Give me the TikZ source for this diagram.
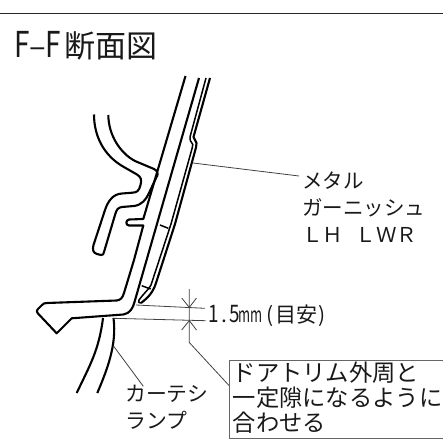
\documentclass[tikz,border=0pt]{standalone}
\usepackage{fontspec}
\setmainfont{Noto Sans CJK JP}
\newcommand{\hw}[1]{\makebox[.5em][c]{#1}}
\newcommand{\tallch}[1]{\scalebox{.9}[1.15]{#1}}
\tikzset{
  part/.style={line width=2.1pt,black,line join=round,line cap=butt},
  mid/.style={line width=1.5pt,black,line join=round},
  thin/.style={line width=.8pt,black!75},
  lab/.style={inner sep=0pt,anchor=base west,align=left,text=black!90},
}
\begin{document}
\begin{tikzpicture}[x=1pt,y=-1pt]
\useasboundingbox (0,0) rectangle (443,448);
\draw[line width=1pt,black!85] (0,13.5) -- (443,13.5);
\node[lab,font=\fontsize{31}{31}\selectfont] (title) at (14.5,57) {\hw{\tallch{F}}\hw{–}\hw{\tallch{F}}\hspace{3pt}断面図};
% door trim upper line with notch, running on to the left tip
\draw[part] (185.5,76) -- (143.3,219) -- (129,219.5) .. controls (125.5,220) and (125.5,225.5) .. (129,225.5) -- (143.3,225.5) -- (134,260)
  -- (124,293) .. controls (122.5,298) and (120.5,300) .. (116.7,300.5) -- (47,303) .. controls (44.5,303) and (43.5,303.5) .. (42,305) -- (37.5,309.5) .. controls (36.5,311) and (36.5,312) .. (38,313.5) -- (56.7,333.3) -- (71.7,318.3) -- (123.3,314.5)
  .. controls (130,313.5) and (133,308) .. (134.5,302) -- (199,78);
% outer clip
\draw[part] (94,114.5) .. controls (94,135) and (103,155) .. (123.3,166.7) -- (137,174.5) .. controls (141,177) and (142,180) .. (140.5,185) .. controls (139,191) and (137,192.5) .. (132,192.7) -- (122,193.5) .. controls (113,194) and (108,201) .. (105,210)
  -- (93.5,245) .. controls (92,250) and (93.5,253) .. (97,254) -- (101,255) .. controls (103,255.3) and (103.6,254) .. (104,252) -- (115,215) .. controls (116.5,209.5) and (118,207.5) .. (122,207) -- (134,206) .. controls (142,205) and (146,199) .. (148,195) -- (156.7,176.7);
\draw[part] (108.3,115) .. controls (108.5,135) and (120,153) .. (135,161) -- (154,169) .. controls (157,170.5) and (158.5,173) .. (157,176.7);
% garnish inner and outer lines
\draw[mid] (206,78) -- (190,137) -- (190.3,140.5) -- (192.8,144.5) -- (192.2,148) -- (171,224) -- (151,285) .. controls (149,289) and (145,292) .. (139,300) .. controls (138,302) and (139,303.5) .. (141,303);
\draw[part] (210,78) -- (193.5,137) -- (196.5,143) -- (196,147.5) -- (175,224) -- (156,283) .. controls (153,292) and (149,297) .. (141,303);
\draw[mid] (160,225) -- (168.3,228.3);
\draw[mid] (141.7,285.7) -- (150.7,289);
% courtesy lamp
\draw[part] (103,318) .. controls (99,350) and (90,365) .. (76.7,393);
\draw[part] (113.5,318) .. controls (117,345) and (107,370) .. (97.3,393);
% leaders and dimension
\coordinate (gar) at (193,163);
\coordinate (lamp) at (113.5,346);
\coordinate (d1) at (136,305);
\coordinate (d2) at (205,308.3);
\coordinate (e1) at (113.3,318.3);
\coordinate (e2) at (205.7,320.7);
\coordinate (vtop) at (189.3,289);
\coordinate (vbot) at (189.3,342.5);
\draw[thin] (gar) -- (299,176);
\draw[thin] (lamp) -- (143.3,386.3);
\draw[thin] (d1) -- (d2);
\draw[thin] (e1) -- (e2);
\draw[thin] (vtop) -- (vbot) -- (229,385.5);
\draw[thin] (181.7,298) -- (189.3,307.4) -- (196.5,298);
\draw[thin] (181.7,330) -- (189.3,320.6) -- (196.5,330);
% label box
\draw[line width=1pt,black!60] (443,360) -- (229.3,360) -- (229.3,438.3) -- (443,438.3);
% texts
\node[lab,font=\fontsize{20.5}{27}\selectfont] (gname) at (302,242) {メタル\\ガーニッシュ\\ＬＨ\hspace{.6em}ＬＷＲ};
\node[lab,font=\fontsize{20.8}{27}\selectfont] (lname) at (125,428) {カーテシ\\ランプ};
\node[lab,font=\fontsize{21}{21}\selectfont] (dim) at (208,322.5) {\hw{\tallch{1}}\hw{.}\hw{\tallch{5}}\makebox[1.05em][c]{\scalebox{.62}[1]{mm}}\hspace{3pt}\hw{(}目安\hw{)}};
\node[lab,font=\fontsize{23.3}{24.6}\selectfont] (note) at (232.5,431) {ドアトリム外周と\\一定隙になるように\\合わせる};
\end{tikzpicture}
\end{document}
